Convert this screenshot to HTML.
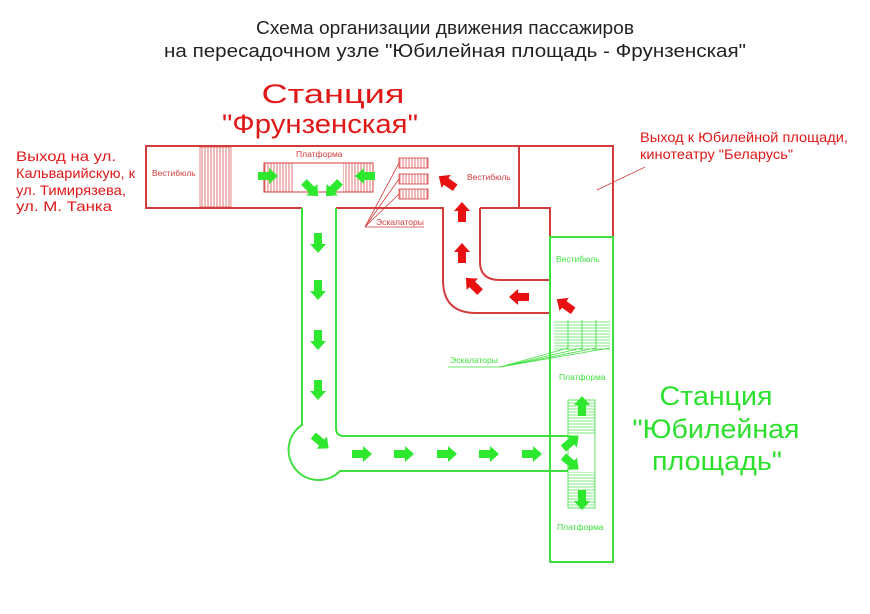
<!DOCTYPE html>
<html><head><meta charset="utf-8"><style>
html,body{margin:0;padding:0;background:#fff;}
svg{display:block;font-family:"Liberation Sans",sans-serif;}
</style></head><body>
<svg width="870" height="614" viewBox="0 0 870 614" xmlns="http://www.w3.org/2000/svg">
<defs>
<g id="ar"><polygon points="-10,-4 1,-4 1,-8 10,0 1,8 1,4 -10,4"/></g>
<pattern id="vh" width="3" height="10" patternUnits="userSpaceOnUse"><line x1="1" y1="0" x2="1" y2="10" stroke="#d43c3c" stroke-width="0.7"/></pattern>
<pattern id="hh" width="10" height="3" patternUnits="userSpaceOnUse"><line x1="0" y1="1" x2="10" y2="1" stroke="#4ce04c" stroke-width="0.7"/></pattern>
</defs>

<text x="445" y="34" font-size="18" text-anchor="middle" fill="#222" textLength="378" lengthAdjust="spacingAndGlyphs">Схема организации движения пассажиров</text>
<text x="455" y="57" font-size="18" text-anchor="middle" fill="#222" textLength="582" lengthAdjust="spacingAndGlyphs">на пересадочном узле "Юбилейная площадь - Фрунзенская"</text>

<text x="333" y="103" font-size="27" text-anchor="middle" fill="#e01818" textLength="143" lengthAdjust="spacingAndGlyphs">Станция</text>
<text x="320" y="133" font-size="27" text-anchor="middle" fill="#e01818" textLength="196" lengthAdjust="spacingAndGlyphs">"Фрунзенская"</text>

<text x="716" y="405" font-size="27" text-anchor="middle" fill="#2ee02e" textLength="113" lengthAdjust="spacingAndGlyphs">Станция</text>
<text x="716" y="438" font-size="27" text-anchor="middle" fill="#2ee02e" textLength="167" lengthAdjust="spacingAndGlyphs">"Юбилейная</text>
<text x="717" y="470" font-size="27" text-anchor="middle" fill="#2ee02e" textLength="130" lengthAdjust="spacingAndGlyphs">площадь"</text>

<g font-size="14" fill="#e01818">
<text x="16" y="161" textLength="100" lengthAdjust="spacingAndGlyphs">Выход на ул.</text>
<text x="16" y="178" textLength="119" lengthAdjust="spacingAndGlyphs">Кальварийскую, к</text>
<text x="16" y="195" textLength="110" lengthAdjust="spacingAndGlyphs">ул. Тимирязева,</text>
<text x="16" y="211" textLength="96" lengthAdjust="spacingAndGlyphs">ул. М. Танка</text>
<text x="640" y="142" textLength="208" lengthAdjust="spacingAndGlyphs">Выход к Юбилейной площади,</text>
<text x="640" y="159" textLength="153" lengthAdjust="spacingAndGlyphs">кинотеатру "Беларусь"</text>
</g>
<line x1="597" y1="190" x2="645" y2="167" stroke="#d43c3c" stroke-width="0.8"/>

<g fill="none" stroke="#d43c3c" stroke-width="2">
<path d="M302,208 H146 V146 H613 V237"/>
<path d="M336,208 H443 V280 Q443,313 476,313 H550"/>
<path d="M480,208 H550 V280 H500 Q480,280 480,262 V208"/>
<line x1="519" y1="146" x2="519" y2="208"/>
</g>
<rect x="200" y="147" width="31" height="60" fill="url(#vh)" stroke="#d43c3c" stroke-width="0.6"/>
<rect x="264" y="163" width="109" height="29" fill="none" stroke="#d43c3c" stroke-width="1"/>
<rect x="264" y="163" width="30" height="29" fill="url(#vh)"/>
<rect x="343" y="163" width="30" height="29" fill="url(#vh)"/>
<rect x="399" y="158" width="29" height="10" fill="url(#vh)" stroke="#d43c3c" stroke-width="0.8"/>
<rect x="399" y="174" width="29" height="10" fill="url(#vh)" stroke="#d43c3c" stroke-width="0.8"/>
<rect x="399" y="189" width="29" height="10" fill="url(#vh)" stroke="#d43c3c" stroke-width="0.8"/>
<g stroke="#d43c3c" stroke-width="0.8">
<line x1="365" y1="227" x2="424" y2="227"/>
<line x1="365" y1="227" x2="399" y2="163"/>
<line x1="365" y1="227" x2="399" y2="179"/>
<line x1="365" y1="227" x2="399" y2="194"/>
</g>
<g font-size="8.5" fill="#d43c3c">
<text x="152" y="176">Вестибюль</text>
<text x="296" y="157">Платформа</text>
<text x="467" y="180">Вестибюль</text>
<text x="376" y="225">Эскалаторы</text>
</g>

<g fill="none" stroke="#3ee03e" stroke-width="2">
<path d="M302,208 V425 A30,30 0 1,0 340,471 H568"/>
<path d="M336,208 V428 Q336,436 344,436 H568"/>
<rect x="550" y="237" width="63" height="325"/>
</g>
<rect x="554" y="320" width="56" height="30" fill="url(#hh)"/>
<g stroke="#3ee03e" stroke-width="0.8">
<line x1="568" y1="320" x2="568" y2="350"/><line x1="582" y1="320" x2="582" y2="350"/><line x1="596" y1="320" x2="596" y2="350"/>
<line x1="448" y1="367" x2="500" y2="367"/>
<line x1="500" y1="367" x2="610" y2="348"/><line x1="500" y1="367" x2="596" y2="348"/><line x1="500" y1="367" x2="582" y2="348"/><line x1="500" y1="367" x2="568" y2="348"/>
</g>
<rect x="568" y="400" width="27" height="108" fill="none" stroke="#3ee03e" stroke-width="0.8"/>
<rect x="568" y="400" width="27" height="35" fill="url(#hh)"/>
<rect x="568" y="472" width="27" height="36" fill="url(#hh)"/>
<g font-size="8.5" fill="#3ee03e">
<text x="556" y="262">Вестибюль</text>
<text x="559" y="380">Платформа</text>
<text x="557" y="530">Платформа</text>
<text x="450" y="363">Эскалаторы</text>
</g>

<g fill="#2ee82e">
<use href="#ar" transform="translate(268,176)"/>
<use href="#ar" transform="translate(365,176) rotate(180)"/>
<use href="#ar" transform="translate(311,189) rotate(45)"/>
<use href="#ar" transform="translate(333,189) rotate(135)"/>
<use href="#ar" transform="translate(318,243) rotate(90)"/>
<use href="#ar" transform="translate(318,290) rotate(90)"/>
<use href="#ar" transform="translate(318,340) rotate(90)"/>
<use href="#ar" transform="translate(318,390) rotate(90)"/>
<use href="#ar" transform="translate(321,442) rotate(40)"/>
<use href="#ar" transform="translate(362,454)"/>
<use href="#ar" transform="translate(404,454)"/>
<use href="#ar" transform="translate(447,454)"/>
<use href="#ar" transform="translate(489,454)"/>
<use href="#ar" transform="translate(532,454)"/>
<use href="#ar" transform="translate(571,442) rotate(-40)"/>
<use href="#ar" transform="translate(571,463) rotate(40)"/>
<use href="#ar" transform="translate(582,406) rotate(-90)"/>
<use href="#ar" transform="translate(582,500) rotate(90)"/>
</g>
<g fill="#e81010">
<use href="#ar" transform="translate(447,182) rotate(-145)"/>
<use href="#ar" transform="translate(462,212) rotate(-90)"/>
<use href="#ar" transform="translate(462,253) rotate(-90)"/>
<use href="#ar" transform="translate(473,285) rotate(-135)"/>
<use href="#ar" transform="translate(519,297) rotate(180)"/>
<use href="#ar" transform="translate(565,305) rotate(-145)"/>
</g>
</svg>
</body></html>
